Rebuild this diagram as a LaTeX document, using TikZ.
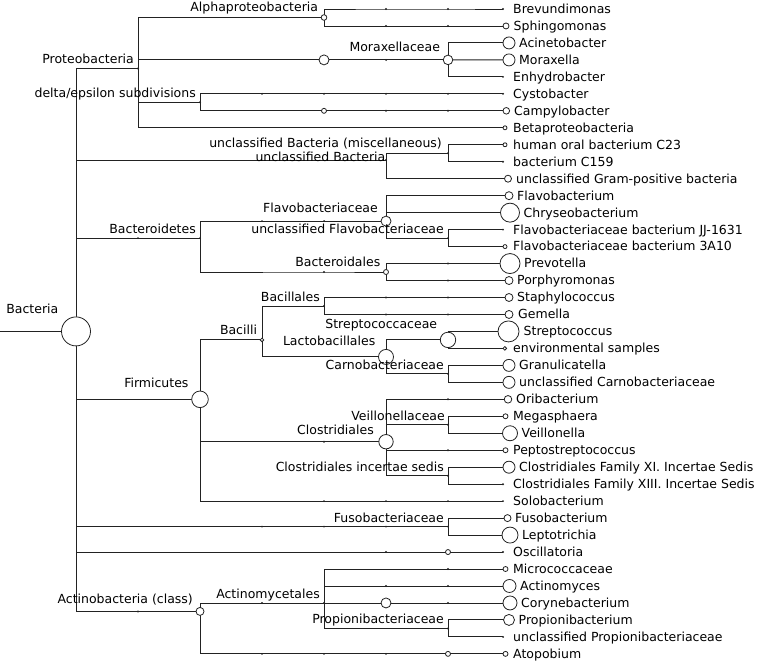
\documentclass[tikz,border=0pt]{standalone}
\usepackage{fontspec}
\setmainfont{DejaVu Sans}
\usetikzlibrary{backgrounds}
\definecolor{linec}{HTML}{222222}
\tikzset{
  mk/.style={circle,draw=linec,fill=white,line width=0.8pt,inner sep=0pt,minimum size=#1},
  tk/.style={circle,fill=linec,inner sep=0pt,minimum size=2.2pt},
  lbl/.style={anchor=base east,inner sep=0pt,font=\fontsize{12.5}{14}\selectfont},
  ltx/.style={anchor=base west,inner sep=0pt,font=\fontsize{12.5}{14}\selectfont},
  edge/.style={draw=linec,line width=0.9pt},
}
\newcommand\lf[6]{\node[#2] (#1) at (#3,#4) {}; \node[ltx] (#1t) at (#5,#4+4.4) {#6};}
\begin{document}
\begin{tikzpicture}[x=1pt,y=-1pt]
\useasboundingbox (0,0) rectangle (760,664);
% ---------- internal nodes ----------
\coordinate (stem) at (0,331.4);
\node[mk=29] (bac) at (76,331.4) {};
\node[tk] (pro) at (138,68.4) {};
\node[mk=5.6] (alp) at (324,17.5) {};
\node[mk=10] (mor1) at (324,59.9) {};
\node[tk] (mor2) at (386,59.9) {};
\node[mk=9.6] (mor) at (448,59.9) {};
\node[tk] (del) at (200,102.3) {};
\node[tk] (t1a) at (386,9) {}; \node[tk] (t1b) at (448,9) {};
\node[tk] (t2a) at (386,25.97) {}; \node[tk] (t2b) at (448,25.97) {};
\node[tk] (t6a) at (262,93.85) {}; \node[tk] (t6b) at (324,93.85) {};
\node[tk] (t6c) at (386,93.85) {}; \node[tk] (t6d) at (448,93.85) {};
\node[mk=5] (c7) at (324,110.82) {};
\node[tk] (t7a) at (386,110.82) {}; \node[tk] (t7b) at (448,110.82) {};
\node[tk] (ub) at (386,160) {};
\node[tk] (ubm) at (448,153.2) {};
\node[tk] (tbd) at (138,238.1) {};
\node[tk] (bdt) at (200,238.1) {};
\node[tk] (tfa) at (262,221.1) {}; \node[tk] (tfb) at (324,221.1) {};
\node[mk=10] (fla) at (386,221.1) {};
\node[tk] (ufl) at (448,238.1) {};
\node[tk] (tbo) at (324,272) {};
\node[mk=5] (bdl) at (386,272) {};
\node[tk] (t16) at (448,263.55) {}; \node[tk] (t17) at (448,280.52) {};
\node[mk=16.6] (fir) at (200,399.3) {};
\node[mk=3.6] (bcl) at (262,339.9) {};
\node[tk] (bll) at (324,306) {};
\node[tk] (t18a) at (386,297.49) {}; \node[tk] (t18b) at (448,297.49) {};
\node[tk] (t19a) at (386,314.46) {}; \node[tk] (t19b) at (448,314.46) {};
\node[mk=15] (lac) at (386,356.9) {};
\node[mk=15.4] (str) at (448,339.9) {};
\node[tk] (car) at (448,373.9) {};
\node[tk] (tcl) at (324,441.7) {};
\node[mk=14.4] (clo) at (386,441.7) {};
\node[tk] (t24) at (448,399.31) {};
\node[tk] (vei) at (448,424.8) {};
\node[tk] (t27) at (448,450.22) {};
\node[tk] (cis) at (448,475.7) {};
\node[tk] (t30a) at (324,501.13) {}; \node[tk] (t30b) at (386,501.13) {}; \node[tk] (t30c) at (448,501.13) {};
\node[tk] (tfu1) at (262,526.6) {}; \node[tk] (tfu2) at (324,526.6) {}; \node[tk] (tfu3) at (386,526.6) {};
\node[tk] (fus) at (448,526.6) {};
\node[tk] (t33a) at (386,552.04) {};
\node[mk=5] (c33) at (448,552.04) {};
\node[tk] (tac) at (138,611.4) {};
\node[mk=8] (act) at (200,611.4) {};
\node[tk] (tam) at (262,602.95) {};
\node[tk] (amy) at (324,602.95) {};
\node[tk] (t34) at (448,569.01) {};
\node[tk] (t35a) at (386,585.98) {}; \node[tk] (t35b) at (448,585.98) {};
\node[mk=10] (c36) at (386,602.95) {}; \node[tk] (t36) at (448,602.95) {};
\node[tk] (prp) at (448,628.4) {};
\node[tk] (t39a) at (262,653.86) {}; \node[tk] (t39b) at (324,653.86) {}; \node[tk] (t39c) at (386,653.86) {};
\node[mk=5] (c39) at (448,653.86) {};
% ---------- leaves ----------
\lf{L1}{tk}{503}{9}{513}{Brevundimonas}
\lf{L2}{mk=6}{506}{25.97}{513.5}{Sphingomonas}
\lf{L3}{mk=12}{509}{42.94}{519}{Acinetobacter}
\lf{L4}{mk=12}{509}{59.91}{519}{Moraxella}
\lf{L5}{tk}{503}{76.88}{513}{Enhydrobacter}
\lf{L6}{tk}{503}{93.85}{513}{Cystobacter}
\lf{L7}{mk=6.6}{506.3}{110.82}{514}{Campylobacter}
\lf{L8}{mk=4}{505}{127.79}{513}{Betaproteobacteria}
\lf{L9}{mk=4}{505}{144.76}{513}{human oral bacterium C23}
\lf{L10}{tk}{503}{161.73}{513}{bacterium C159}
\lf{L11}{mk=7}{508}{178.70}{516}{unclassified Gram-positive bacteria}
\lf{L12}{mk=8}{509}{195.67}{517}{Flavobacterium}
\lf{L13}{mk=19}{510}{212.64}{523.5}{Chryseobacterium}
\lf{L14}{tk}{503}{229.61}{513}{Flavobacteriaceae bacterium JJ-1631}
\lf{L15}{mk=4}{505}{246.58}{513}{Flavobacteriaceae bacterium 3A10}
\lf{L16}{mk=20}{510}{263.55}{524}{Prevotella}
\lf{L17}{mk=8}{509}{280.52}{517}{Porphyromonas}
\lf{L18}{mk=8}{509}{297.49}{517}{Staphylococcus}
\lf{L19}{mk=8}{509}{314.46}{518}{Gemella}
\lf{L20}{mk=21}{508.5}{331.43}{523.5}{Streptococcus}
\lf{L21}{mk=3.6}{504.8}{348.40}{513}{environmental samples}
\lf{L22}{mk=12}{509}{365.37}{519}{Granulicatella}
\lf{L23}{mk=12}{509}{382.34}{519}{unclassified Carnobacteriaceae}
\lf{L24}{mk=7.6}{508}{399.31}{516}{Oribacterium}
\lf{L25}{mk=5}{505.5}{416.28}{513}{Megasphaera}
\lf{L26}{mk=15}{510}{433.25}{521.5}{Veillonella}
\lf{L27}{mk=5}{505.5}{450.22}{513}{Peptostreptococcus}
\lf{L28}{mk=12}{509}{467.19}{519}{Clostridiales Family XI. Incertae Sedis}
\lf{L29}{tk}{503}{484.16}{513}{Clostridiales Family XIII. Incertae Sedis}
\lf{L30}{tk}{503}{501.13}{513}{Solobacterium}
\lf{L31}{mk=7}{507.5}{518.10}{515}{Fusobacterium}
\lf{L32}{mk=16}{510}{535.07}{522}{Leptotrichia}
\lf{L33}{tk}{503}{552.04}{513}{Oscillatoria}
\lf{L34}{mk=5}{505.5}{569.01}{513}{Micrococcaceae}
\lf{L35}{mk=13}{509.5}{585.98}{520}{Actinomyces}
\lf{L36}{mk=14}{510}{602.95}{521}{Corynebacterium}
\lf{L37}{mk=11}{509}{619.92}{518.5}{Propionibacterium}
\lf{L38}{tk}{503}{636.89}{513}{unclassified Propionibacteriaceae}
\lf{L39}{mk=5}{505.5}{653.86}{513}{Atopobium}
% ---------- internal labels ----------
\node[lbl] (bacl) at (58.5,313) {Bacteria};
\node[lbl] (prol) at (134,63.9) {Proteobacteria};
\node[lbl] (alpl) at (318.2,11.2) {Alphaproteobacteria};
\node[lbl] (morl) at (440.2,51.6) {Moraxellaceae};
\node[lbl] (dell) at (196,97.8) {delta/epsilon subdivisions};
\node[lbl] (ubml) at (442,147.5) {unclassified Bacteria (miscellaneous)};
\node[lbl] (ubl) at (385.5,161.5) {unclassified Bacteria};
\node[lbl] (bdtl) at (196,233.6) {Bacteroidetes};
\node[lbl] (flal) at (378,212.6) {Flavobacteriaceae};
\node[lbl] (ufll) at (444,233.6) {unclassified Flavobacteriaceae};
\node[lbl] (bdll) at (380.5,266) {Bacteroidales};
\node[lbl] (bcll) at (257.2,334.6) {Bacilli};
\node[lbl] (blll) at (320,301.5) {Bacillales};
\node[lbl] (strl) at (437.3,328.7) {Streptococcaceae};
\node[lbl] (lacl) at (375.5,345.9) {Lactobacillales};
\node[lbl] (carl) at (444,369.4) {Carnobacteriaceae};
\node[lbl] (firl) at (188.7,387.5) {Firmicutes};
\node[lbl] (veil) at (445,420.3) {Veillonellaceae};
\node[lbl] (clol) at (374,434.5) {Clostridiales};
\node[lbl] (cisl) at (444,471.2) {Clostridiales incertae sedis};
\node[lbl] (fusl) at (444,522.1) {Fusobacteriaceae};
\node[lbl] (actl) at (193,603.9) {Actinobacteria (class)};
\node[lbl] (amyl) at (320,598.5) {Actinomycetales};
\node[lbl] (prpl) at (444,623.9) {Propionibacteriaceae};
% ---------- connectors ----------
\begin{scope}[on background layer]
\path[edge] (stem) -- (bac.center);
\path[edge] (bac.center) |- (pro.center);
\path[edge] (bac.center) |- (ub.center);
\path[edge] (bac.center) |- (tbd.center) -- (bdt.center);
\path[edge] (bac.center) |- (fir.center);
\path[edge] (bac.center) |- (tfu1.center) -- (tfu2.center) -- (tfu3.center) -- (fus.center);
\path[edge] (bac.center) |- (t33a.center) -- (c33.center) -- (L33.center);
\path[edge] (bac.center) |- (tac.center) -- (act.center);
% Proteobacteria
\path[edge] (pro.center) |- (alp.center);
\path[edge] (pro.center) |- (mor1.center) -- (mor2.center) -- (mor.center);
\path[edge] (pro.center) |- (del.center);
\path[edge] (pro.center) |- (L8.center);
\path[edge] (alp.center) |- (t1a.center) -- (t1b.center) -- (L1.center);
\path[edge] (alp.center) |- (t2a.center) -- (t2b.center) -- (L2.center);
\path[edge] (mor.center) |- (L3.center);
\path[edge] (mor.center) -- (L4.center);
\path[edge] (mor.center) |- (L5.center);
\path[edge] (del.center) |- (t6a.center) -- (t6b.center) -- (t6c.center) -- (t6d.center) -- (L6.center);
\path[edge] (del.center) |- (c7.center) -- (t7a.center) -- (t7b.center) -- (L7.center);
% unclassified Bacteria
\path[edge] (ub.center) |- (ubm.center);
\path[edge] (ub.center) |- (L11.center);
\path[edge] (ubm.center) |- (L9.center);
\path[edge] (ubm.center) |- (L10.center);
% Bacteroidetes
\path[edge] (bdt.center) |- (tfa.center) -- (tfb.center) -- (fla.center);
\path[edge] (bdt.center) |- (tbo.center) -- (bdl.center);
\path[edge] (fla.center) |- (L12.center);
\path[edge] (fla.center) |- (L13.center);
\path[edge] (fla.center) |- (ufl.center);
\path[edge] (ufl.center) |- (L14.center);
\path[edge] (ufl.center) |- (L15.center);
\path[edge] (bdl.center) |- (t16.center) -- (L16.center);
\path[edge] (bdl.center) |- (t17.center) -- (L17.center);
% Firmicutes
\path[edge] (fir.center) |- (bcl.center);
\path[edge] (fir.center) |- (tcl.center) -- (clo.center);
\path[edge] (fir.center) |- (t30a.center) -- (t30b.center) -- (t30c.center) -- (L30.center);
\path[edge] (bcl.center) |- (bll.center);
\path[edge] (bcl.center) |- (lac.center);
\path[edge] (bll.center) |- (t18a.center) -- (t18b.center) -- (L18.center);
\path[edge] (bll.center) |- (t19a.center) -- (t19b.center) -- (L19.center);
\path[edge] (lac.center) |- (str.center);
\path[edge] (lac.center) |- (car.center);
\path[edge] (str.center) |- (L20.center);
\path[edge] (str.center) |- (L21.center);
\path[edge] (car.center) |- (L22.center);
\path[edge] (car.center) |- (L23.center);
\path[edge] (clo.center) |- (t24.center) -- (L24.center);
\path[edge] (clo.center) |- (vei.center);
\path[edge] (clo.center) |- (t27.center) -- (L27.center);
\path[edge] (clo.center) |- (cis.center);
\path[edge] (vei.center) |- (L25.center);
\path[edge] (vei.center) |- (L26.center);
\path[edge] (cis.center) |- (L28.center);
\path[edge] (cis.center) |- (L29.center);
% Fusobacteriaceae
\path[edge] (fus.center) |- (L31.center);
\path[edge] (fus.center) |- (L32.center);
% Actinobacteria
\path[edge] (act.center) |- (tam.center) -- (amy.center);
\path[edge] (act.center) |- (t39a.center) -- (t39b.center) -- (t39c.center) -- (c39.center) -- (L39.center);
\path[edge] (amy.center) |- (t34.center) -- (L34.center);
\path[edge] (amy.center) |- (t35a.center) -- (t35b.center) -- (L35.center);
\path[edge] (amy.center) -- (c36.center) -- (t36.center) -- (L36.center);
\path[edge] (amy.center) |- (prp.center);
\path[edge] (prp.center) |- (L37.center);
\path[edge] (prp.center) |- (L38.center);
\end{scope}
\end{tikzpicture}
\end{document}
